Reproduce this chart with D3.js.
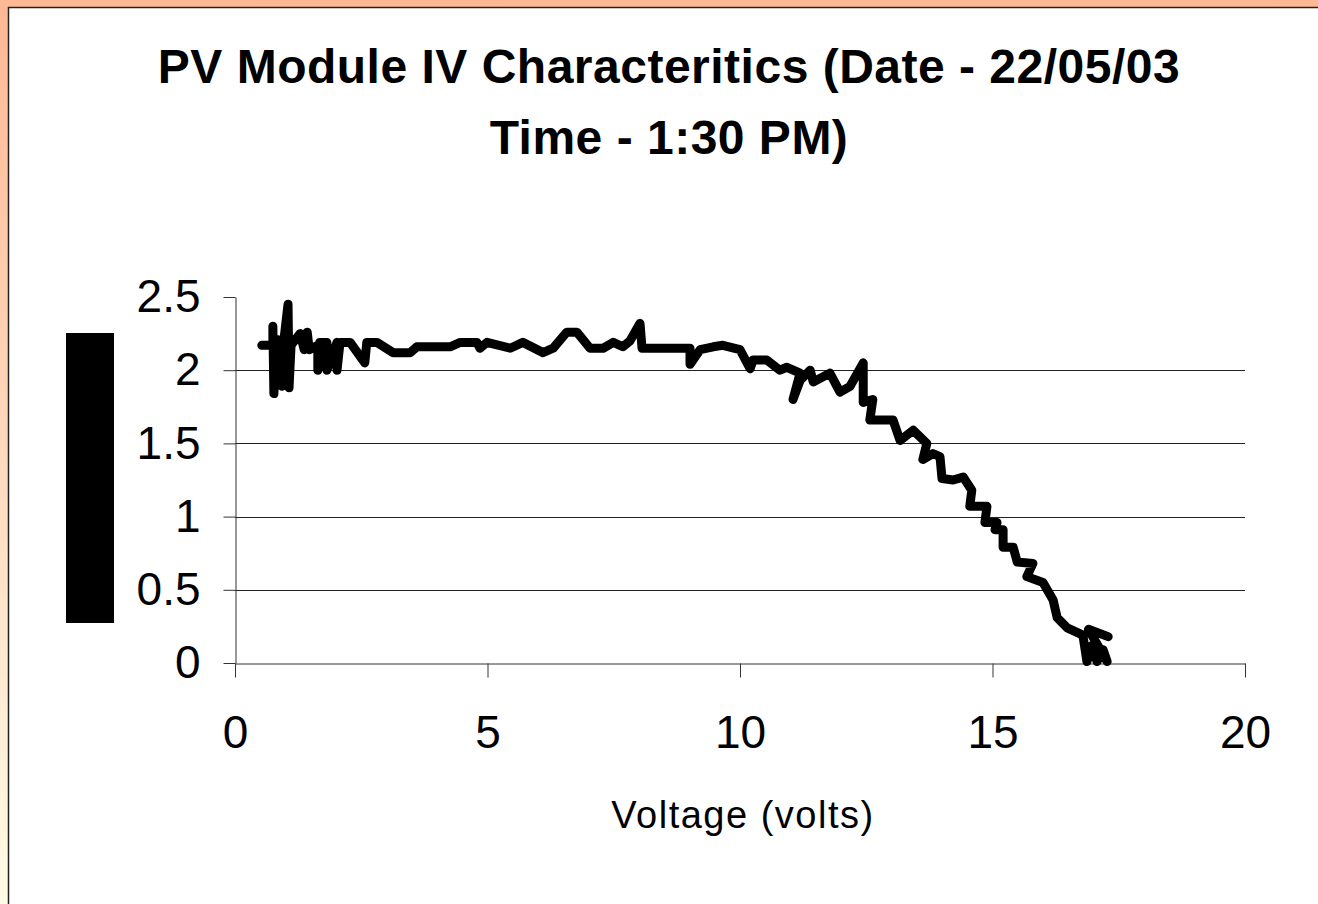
<!DOCTYPE html>
<html>
<head>
<meta charset="utf-8">
<script src="https://cdn.jsdelivr.net/npm/d3@7"></script>
<style>
  body { margin: 0; padding: 0; overflow: hidden; }
  text { font-family: "Liberation Sans", Arial, sans-serif; }
</style>
</head>
<body>
<div id="chart"></div>
<script>
// PV module IV curve
var voltage = [0.53, 0.75, 0.75, 0.77, 0.83, 0.93, 0.97, 1.05, 1.07, 1.11, 1.29, 1.37, 1.43, 1.47,
    1.64, 1.64, 1.68, 1.82, 1.82, 2.02, 2.02, 2.08, 2.28, 2.57, 2.61, 2.81, 3.13, 3.47, 3.60, 4.26,
    4.46, 4.79, 4.85, 4.99, 5.45, 5.70, 6.10, 6.30, 6.57, 6.77, 7.03, 7.29, 7.49, 7.68, 7.82, 8.02,
    8.06, 9.01, 9.01, 9.21, 9.47, 9.66, 10.0, 10.2, 10.26, 10.53, 10.79, 10.93, 11.19, 11.05, 11.19,
    11.39, 11.45, 11.78, 11.98, 12.18, 12.44, 12.44, 12.63, 12.57, 13.03, 13.17, 13.43, 13.70, 13.62,
    13.82, 13.96, 14.0, 14.22, 14.42, 14.59, 14.55, 14.89, 14.85, 15.09, 15.05, 15.21, 15.21, 15.41,
    15.49, 15.80, 15.68, 16.0, 16.2, 16.28, 16.48, 16.79, 16.87, 16.97, 17.07, 17.19, 17.27, 16.90, 17.29];
var current = [2.17, 2.17, 2.30, 1.84, 2.21, 1.89, 2.21, 2.45, 1.88, 2.17, 2.25, 2.14, 2.26, 2.14,
    2.17, 2.0, 2.19, 2.19, 2.0, 2.19, 2.0, 2.19, 2.19, 2.05, 2.19, 2.19, 2.12, 2.12, 2.16, 2.16,
    2.19, 2.19, 2.15, 2.19, 2.15, 2.19, 2.12, 2.15, 2.26, 2.26, 2.15, 2.15, 2.19, 2.16, 2.20, 2.32,
    2.15, 2.15, 2.04, 2.14, 2.16, 2.17, 2.14, 2.01, 2.07, 2.07, 2.0, 2.02, 1.98, 1.80, 1.93,
    2.0, 1.92, 1.98, 1.85, 1.89, 2.05, 1.78, 1.80, 1.66, 1.66, 1.52, 1.59, 1.50, 1.39,
    1.43, 1.41, 1.26, 1.25, 1.27, 1.18, 1.07, 1.07, 0.96, 0.96, 0.91, 0.91, 0.79, 0.79,
    0.69, 0.68, 0.59, 0.55, 0.43, 0.31, 0.24, 0.19, 0.01, 0.12, 0.01, 0.09, 0.01, 0.23, 0.18];
var xTicks = [0, 5, 10, 15, 20];
var yTicks = [0, 0.5, 1, 1.5, 2, 2.5];
var titleLines = ["PV Module IV Characteritics (Date - 22/05/03", "Time - 1:30 PM)"];
var xTitle = "Voltage (volts)";

var W = 1318, H = 904;
var margin = { top: 297, right: 73, bottom: 241, left: 235 },
    width = W - margin.left - margin.right,
    height = H - margin.top - margin.bottom;

var root = d3.select("#chart")
    .append("svg")
    .attr("width", W)
    .attr("height", H);

// orange frame behind the white panel
var grad = root.append("defs").append("linearGradient")
    .attr("id", "frame")
    .attr("x1", 0).attr("y1", 0).attr("x2", 0).attr("y2", 1);
grad.append("stop").attr("offset", "0%").attr("stop-color", "#ffb894");
grad.append("stop").attr("offset", "100%").attr("stop-color", "#fffbe6");

root.append("rect")
    .attr("width", W).attr("height", H)
    .attr("fill", "url(#frame)");

root.append("rect")
    .attr("x", 8.5).attr("y", 7.5)
    .attr("width", W + 10).attr("height", H + 10)
    .attr("fill", "white")
    .attr("stroke", "#222")
    .attr("stroke-width", 1.5);

// title
root.append("g")
    .selectAll("text")
    .data(titleLines)
    .enter()
    .append("text")
    .attr("x", 669)
    .attr("y", function (d, i) { return 83 + i * 71 })
    .attr("text-anchor", "middle")
    .style("font-size", "48px")
    .style("font-weight", "bold")
    .style("letter-spacing", "0.5px")
    .style("fill", "black")
    .text(function (d) { return d });

// y title came out as a black box in the original
root.append("rect")
    .attr("x", 66).attr("y", 333)
    .attr("width", 48).attr("height", 290)
    .attr("fill", "black");

var svg = root.append("g")
    .attr("transform", "translate(" + margin.left + "," + margin.top + ")");

var x = d3.scaleLinear().domain([0, 20]).range([0, width]);
var y = d3.scaleLinear().domain([0, 2.5]).range([height, 0]);

// gridlines
svg.append("g")
    .selectAll("line.grid")
    .data(yTicks.filter(function (d) { return d > 0 && d < 2.5 }))
    .enter()
    .append("line")
    .attr("class", "grid")
    .attr("x1", 0)
    .attr("x2", width)
    .attr("y1", function (d) { return Math.round(y(d)) + 0.5 })
    .attr("y2", function (d) { return Math.round(y(d)) + 0.5 })
    .attr("stroke", "#222")
    .attr("stroke-width", 1);

// axes
svg.append("g")
    .attr("transform", "translate(0.5,0)")
    .call(d3.axisLeft(y)
        .tickValues(yTicks)
        .tickFormat(d3.format(""))
        .tickSize(12)
        .tickSizeOuter(0)
        .tickPadding(23));

svg.append("g")
    .attr("transform", "translate(0," + (height + 0.5) + ")")
    .call(d3.axisBottom(x)
        .tickValues(xTicks)
        .tickFormat(d3.format("d"))
        .tickSize(14)
        .tickSizeOuter(0)
        .tickPadding(38));

svg.selectAll(".domain, .tick line").attr("stroke", "#333");
svg.selectAll(".tick text")
    .style("font-family", "'Liberation Sans', Arial, sans-serif")
    .style("font-size", "46px")
    .style("fill", "black");

// the IV curve
var pts = voltage.map(function (v, i) { return { V: v, I: current[i] } });

svg.append("path")
    .datum(pts)
    .attr("fill", "none")
    .attr("stroke", "black")
    .attr("stroke-width", 9)
    .attr("stroke-linejoin", "round")
    .attr("stroke-linecap", "round")
    .attr("d", d3.line()
        .x(function (d) { return x(d.V) })
        .y(function (d) { return y(d.I) })
    );

// x title
root.append("text")
    .attr("x", 743)
    .attr("y", 828)
    .attr("text-anchor", "middle")
    .style("font-size", "38px")
    .style("letter-spacing", "1.5px")
    .style("fill", "black")
    .text(xTitle);
</script>
</body>
</html>
